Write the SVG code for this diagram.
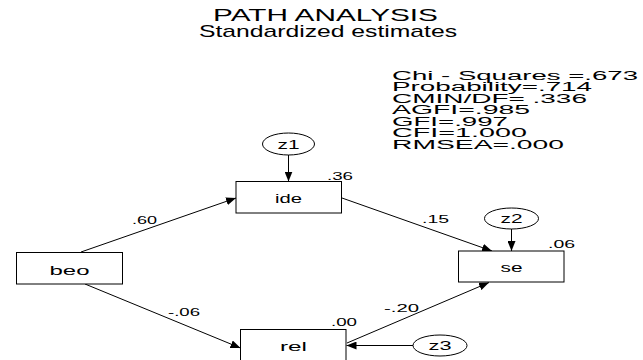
<svg xmlns="http://www.w3.org/2000/svg" width="643" height="360" viewBox="0 0 643 360">
<style>
text{font-family:"Liberation Sans",Arial,sans-serif;fill:#000}
.t{font-size:17px}
.f{font-size:12px}
.n{font-size:12px;text-anchor:middle}
.l{font-size:10px}
rect{fill:#fff;stroke:#000;stroke-width:1}
ellipse{fill:#fff;stroke:#000;stroke-width:1}
.c line{stroke:#000;stroke-width:1;marker-end:url(#ah)}
</style>
<defs>
<marker id="ah" markerUnits="userSpaceOnUse" markerWidth="10" markerHeight="8" viewBox="0 0 10 8" refX="10" refY="4" orient="auto">
<path d="M0,0 L10,4 L0,8 z" fill="#000"/>
</marker>
</defs>
<rect x="0" y="0" width="643" height="360" style="stroke:none;fill:#fff"/>
<g id="title">
<text class="t" x="213" y="21" textLength="225" lengthAdjust="spacingAndGlyphs">PATH ANALYSIS</text>
<text class="t" x="199" y="37" textLength="258" lengthAdjust="spacingAndGlyphs">Standardized estimates</text>
</g>
<g id="fit">
<text class="f" x="392" y="80" textLength="246" lengthAdjust="spacingAndGlyphs">Chi - Squares =.673</text>
<text class="f" x="392" y="91" textLength="200" lengthAdjust="spacingAndGlyphs">Probability=.714</text>
<text class="f" x="392" y="102.5" textLength="195" lengthAdjust="spacingAndGlyphs">CMIN/DF= .336</text>
<text class="f" x="392" y="114" textLength="138" lengthAdjust="spacingAndGlyphs">AGFI=.985</text>
<text class="f" x="392" y="125.5" textLength="116" lengthAdjust="spacingAndGlyphs">GFI=.997</text>
<text class="f" x="392" y="137" textLength="135" lengthAdjust="spacingAndGlyphs">CFI=1.000</text>
<text class="f" x="392" y="149" textLength="172" lengthAdjust="spacingAndGlyphs">RMSEA=.000</text>
</g>
<g class="c" id="connectors">
<line x1="81" y1="252" x2="236" y2="198"/>
<line x1="85" y1="284" x2="240.5" y2="348"/>
<line x1="342" y1="198" x2="492" y2="251"/>
<line x1="347" y1="343" x2="489" y2="282.5"/>
<line x1="288.5" y1="155" x2="288.5" y2="181.5"/>
<line x1="511.5" y1="229" x2="511.5" y2="251"/>
<line x1="413" y1="345.5" x2="346.5" y2="345.5"/>
</g>
<g id="beo">
<rect x="16.5" y="252.5" width="106" height="31.5"/>
<text class="n" x="69.5" y="274.5" textLength="40" lengthAdjust="spacingAndGlyphs">beo</text>
</g>
<g id="ide">
<rect x="236" y="181.5" width="105.5" height="31.5"/>
<text class="n" x="288.5" y="203" textLength="27" lengthAdjust="spacingAndGlyphs">ide</text>
</g>
<g id="se">
<rect x="458.5" y="251" width="105.5" height="31"/>
<text class="n" x="511.5" y="271.5" textLength="22" lengthAdjust="spacingAndGlyphs">se</text>
</g>
<g id="rel">
<rect x="240.5" y="329.5" width="105.5" height="32"/>
<text class="n" x="293.5" y="350.5" textLength="27" lengthAdjust="spacingAndGlyphs">rel</text>
</g>
<g id="z1">
<ellipse cx="288.5" cy="144" rx="26" ry="11"/>
<text class="n" x="288.5" y="148.5" textLength="22" lengthAdjust="spacingAndGlyphs">z1</text>
</g>
<g id="z2">
<ellipse cx="511.5" cy="218.5" rx="27" ry="10.5"/>
<text class="n" x="511.5" y="223" textLength="22" lengthAdjust="spacingAndGlyphs">z2</text>
</g>
<g id="z3">
<ellipse cx="440" cy="345.5" rx="27" ry="10.5"/>
<text class="n" x="440" y="350" textLength="23" lengthAdjust="spacingAndGlyphs">z3</text>
</g>
<g id="labels">
<text class="l" x="327" y="180" textLength="26" lengthAdjust="spacingAndGlyphs">.36</text>
<text class="l" x="132" y="224" textLength="25" lengthAdjust="spacingAndGlyphs">.60</text>
<text class="l" x="422" y="223" textLength="27" lengthAdjust="spacingAndGlyphs">.15</text>
<text class="l" x="548" y="248" textLength="27" lengthAdjust="spacingAndGlyphs">.06</text>
<text class="l" x="168" y="316" textLength="32" lengthAdjust="spacingAndGlyphs">-.06</text>
<text class="l" x="331" y="326" textLength="26" lengthAdjust="spacingAndGlyphs">.00</text>
<text class="l" x="384" y="312" textLength="35" lengthAdjust="spacingAndGlyphs">-.20</text>
</g>
</svg>
